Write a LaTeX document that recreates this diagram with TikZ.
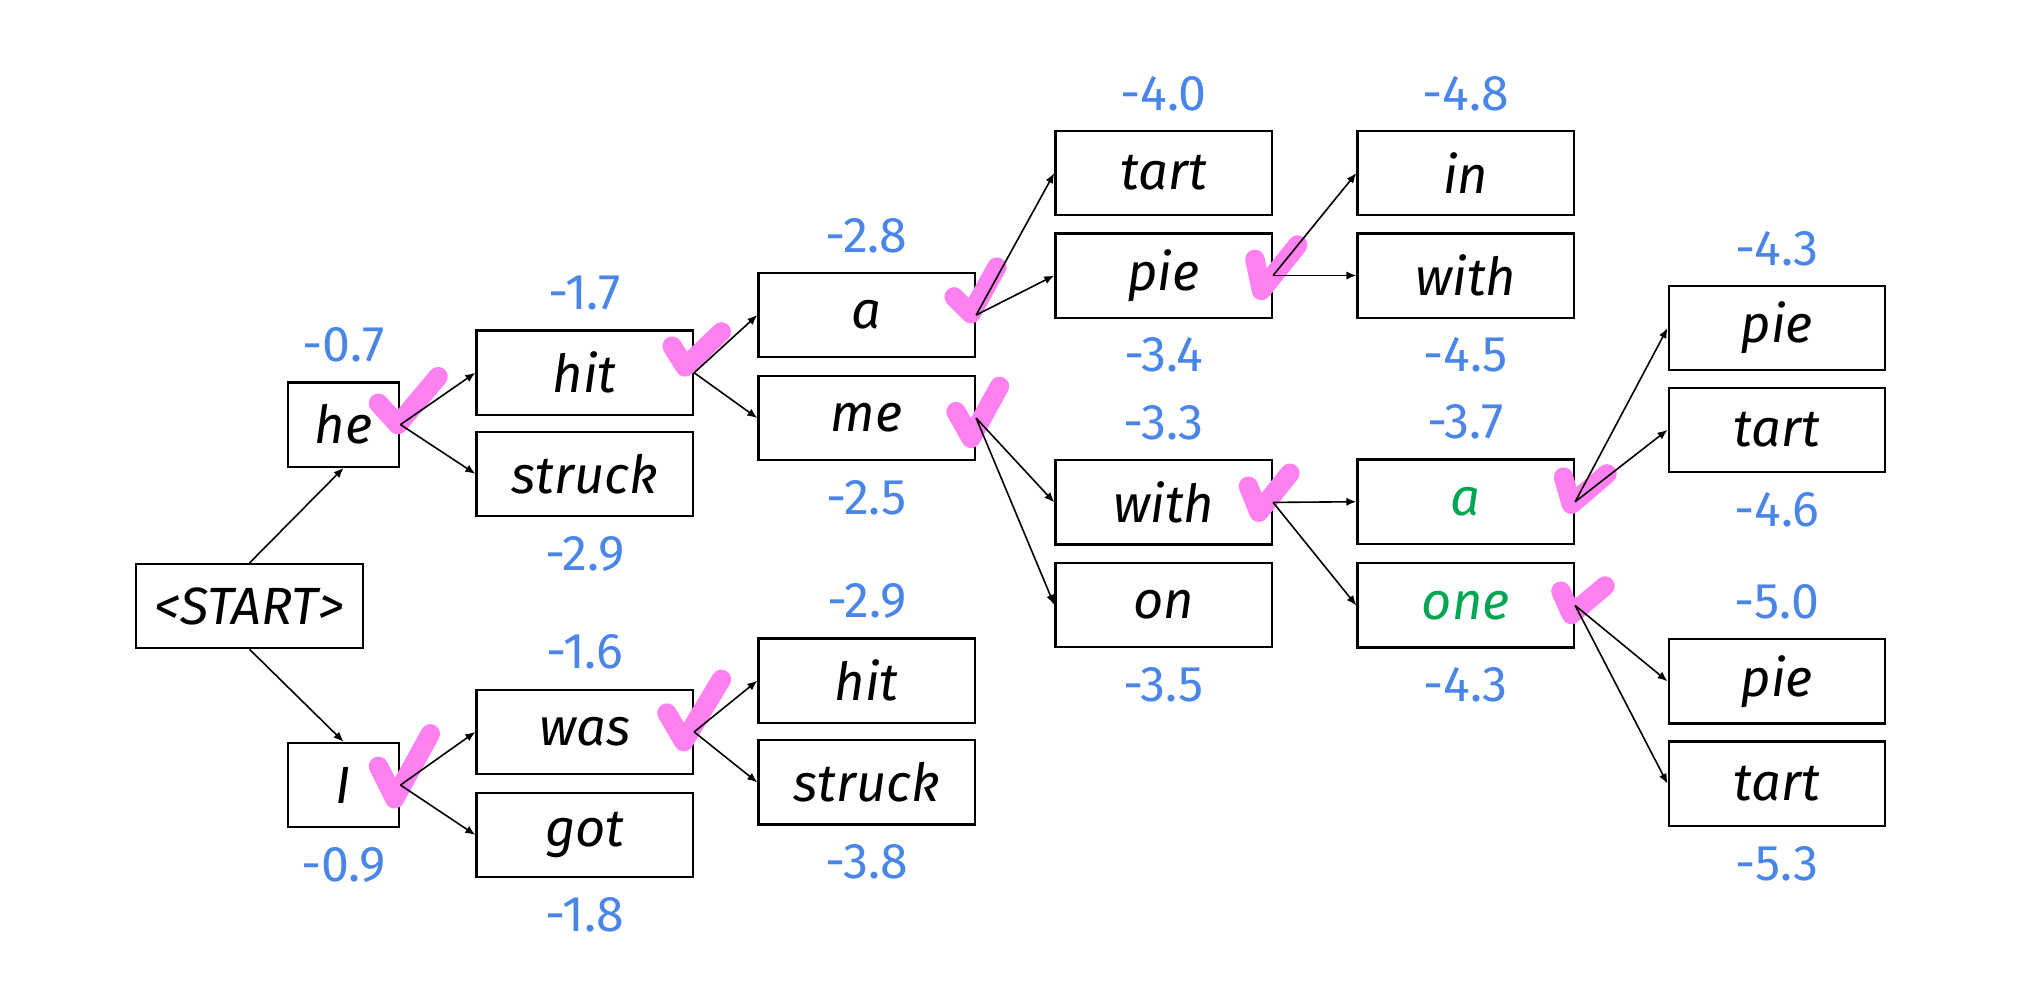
\documentclass[tikz,border=0pt]{standalone}
\usepackage{fontspec}
\setmainfont{Fira Sans}
\usepackage{tikz}
\usetikzlibrary{arrows.meta}
\definecolor{scoreblue}{RGB}{74,134,232}
\definecolor{wordgreen}{RGB}{0,166,81}
\definecolor{tickpink}{RGB}{255,128,240}

\begin{document}
\begin{tikzpicture}[
		word/.style={draw, line width=0.5pt, minimum width=1.67cm, minimum height=0.65cm, inner sep=0pt, font=\fontsize{11.5}{13}\selectfont\itshape},
		small/.style={word, minimum width=0.86cm},
		score/.style={text=scoreblue, inner sep=0pt, font=\fontsize{11}{13}\selectfont},
		every label/.style={score},
		label distance=0.14cm,
		checkmark/.style={draw=tickpink, line width=0.15cm, line cap=round, line join=round},
		edge/.style={-{Latex[length=2.2pt,width=1.8pt]}, line width=0.35pt}]
		\useasboundingbox (0,0) rectangle (15.68,7.71);
		\path
		(1.925,3.035) node[word, minimum width=1.75cm](start) {<START>}
		(2.65,4.435) node[small, label=above:-0.7](he) {he}
		(2.65,1.655) node[small, label=below:-0.9](I) {I}
		(4.51,4.835) node[word, label=above:-1.7](hit) {hit}
		(4.51,4.055) node[word, label=below:-2.9](struck) {struck}
		(4.51,2.065) node[word, label=above:-1.6](was) {was}
		(4.51,1.27) node[word, label=below:-1.8](got) {got}
		(6.685,5.28) node[word, label=above:-2.8](a) {a}
		(6.685,4.485) node[word, label=below:-2.5](me) {me}
		(6.685,2.46) node[word, label=above:-2.9](washit) {hit}
		(6.685,1.675) node[word, label=below:-3.8](wasstruck) {struck}
		(8.975,6.375) node[word, label=above:-4.0](tart) {tart}
		(8.975,5.585) node[word, label=below:-3.4](pie) {pie}
		(8.975,3.835) node[word, label=above:-3.3](with) {with}
		(8.975,3.045) node[word, label=below:-3.5](on) {on}
		(11.305,6.375) node[word, label=above:-4.8](in) {in}
		(11.305,5.585) node[word, label=below:-4.5](piewith) {with}
		(11.305,3.84) node[word, text=wordgreen, label=above:-3.7](witha) {a}
		(11.305,3.04) node[word, text=wordgreen, label=below:-4.3](withone) {one}
		(13.705,5.18) node[word, label=above:-4.3](apie) {pie}
		(13.705,4.395) node[word, label=below:-4.6](atart) {tart}
		(13.705,2.455) node[word, label=above:-5.0](onepie) {pie}
		(13.705,1.665) node[word, label=below:-5.3](onetart) {tart};
		% ticks on the kept hypotheses
		\foreach \n/\s/\b/\e in {he/{-0.17,0.165}/{-0.02,0}/{0.29,0.37},
				I/{-0.17,0.145}/{-0.045,-0.105}/{0.23,0.395},
				hit/{-0.17,0.205}/{-0.07,0.045}/{0.21,0.315},
				was/{-0.21,0.145}/{-0.08,-0.075}/{0.21,0.405},
				a/{-0.17,0.14}/{-0.04,0.01}/{0.16,0.37},
				me/{-0.155,0.05}/{-0.04,-0.155}/{0.18,0.245},
				pie/{-0.14,0.125}/{-0.09,-0.115}/{0.19,0.235},
				with/{-0.19,0.125}/{-0.11,-0.075}/{0.13,0.225},
				witha/{-0.09,0.19}/{-0.03,-0.02}/{0.245,0.215},
				withone/{-0.11,0.11}/{-0.03,-0.07}/{0.23,0.15}}
			\draw[checkmark, shift={(\n.east)}] (\s) -- (\b) -- (\e);
		\draw[edge] (start.north) to (he.south);
		\draw[edge] (start.south) to (I.north);
		\draw[edge] (he.east) to (hit.west);
		\draw[edge] (he.east) to (struck.west);
		\draw[edge] (I.east) to (was.west);
		\draw[edge] (I.east) to (got.west);
		\draw[edge] (hit.east) to (a.west);
		\draw[edge] (hit.east) to (me.west);
		\draw[edge] (was.east) to (washit.west);
		\draw[edge] (was.east) to (wasstruck.west);
		\draw[edge] (a.east) to (tart.west);
		\draw[edge] (a.east) to (pie.west);
		\draw[edge] (me.east) to (with.west);
		\draw[edge] (me.east) to (on.west);
		\draw[edge] (pie.east) to (in.west);
		\draw[edge] (pie.east) to (piewith.west);
		\draw[edge] (with.east) to (witha.west);
		\draw[edge] (with.east) to (withone.west);
		\draw[edge] (witha.east) to (apie.west);
		\draw[edge] (witha.east) to (atart.west);
		\draw[edge] (withone.east) to (onepie.west);
		\draw[edge] (withone.east) to (onetart.west);
	\end{tikzpicture}
\end{document}
